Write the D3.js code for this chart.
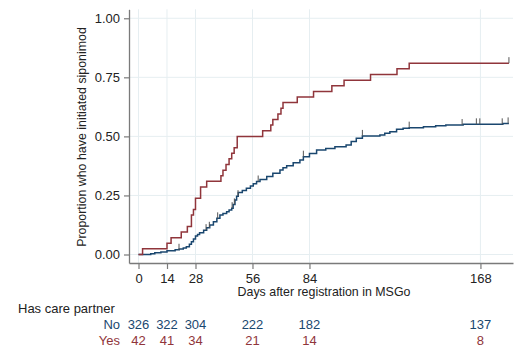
<!DOCTYPE html>
<html>
<head>
<meta charset="utf-8">
<script src="https://cdn.jsdelivr.net/npm/d3@7"></script>
<style>
  body { margin: 0; background: #fff; }
  svg { font-family: "Liberation Sans", Arial, sans-serif; }
</style>
</head>
<body>
<div id="chart"></div>
<script>
// Kaplan-Meier style cumulative proportions (day, proportion after step)
const noDays = [0, 6, 8, 11, 14, 18, 20, 22, 23.5, 25, 26, 27, 28, 29, 30, 32, 33.5, 35, 36.8, 38.5, 40, 41.5, 43.3, 44.5, 45.8, 46.5, 47.4, 48.2, 49, 51, 53, 55, 56.4, 58, 59.7, 63, 66, 69.5, 71, 72.8, 76, 79.3, 81, 84, 87.5, 92, 96.5, 102, 104.5, 107, 110, 118.6, 121, 123.5, 126.8, 130, 133, 140, 146, 151, 159.5, 179, 182];
const noProp = [0, 0.003, 0.007, 0.011, 0.016, 0.02, 0.023, 0.028, 0.033, 0.043, 0.054, 0.066, 0.078, 0.085, 0.092, 0.103, 0.113, 0.125, 0.139, 0.153, 0.167, 0.174, 0.181, 0.188, 0.196, 0.212, 0.231, 0.247, 0.262, 0.271, 0.28, 0.29, 0.30, 0.309, 0.318, 0.33, 0.344, 0.358, 0.367, 0.376, 0.388, 0.40, 0.414, 0.428, 0.442, 0.449, 0.456, 0.464, 0.478, 0.492, 0.502, 0.506, 0.513, 0.52, 0.53, 0.534, 0.537, 0.541, 0.545, 0.548, 0.551, 0.555, 0.555];
const yesDays = [0, 2, 14, 16, 21, 24, 26, 27, 28, 30.5, 33.5, 40.5, 41.5, 43, 44.5, 45.8, 47, 48.5, 61, 65, 66, 68.5, 70, 71, 78, 86, 95, 101, 114, 127, 133, 182];
const yesProp = [0, 0.024, 0.048, 0.071, 0.095, 0.119, 0.167, 0.19, 0.238, 0.286, 0.31, 0.333, 0.357, 0.381, 0.405, 0.429, 0.452, 0.5, 0.524, 0.548, 0.571, 0.595, 0.619, 0.643, 0.667, 0.69, 0.714, 0.738, 0.762, 0.786, 0.81, 0.81];

// censoring marks (days)
const noCensor = [19.9, 33.2, 34.8, 38.9, 46, 47.1, 48.9, 58.8, 81, 110, 133, 159, 166, 167.7, 178.7, 181.6];
const yesCensor = [182];

// axis ticks and number at risk
const xTicks = [0, 14, 28, 56, 84, 168];
const yTicks = [0, 0.25, 0.5, 0.75, 1];
const riskNo = [326, 322, 304, 222, 182, 137];
const riskYes = [42, 41, 34, 21, 14, 8];

const width = 518, height = 350;
const navy = "#1a476f", cranberry = "#90353b";

const svg = d3.select("#chart").append("svg")
  .attr("width", width)
  .attr("height", height);

const x = d3.scaleLinear().domain([-4.67, 184]).range([129, 513]);
const y = d3.scaleLinear().domain([-0.036, 1.038]).range([263, 9.3]);

// grid
svg.append("g")
  .selectAll("line")
  .data(yTicks)
  .join("line")
  .attr("x1", x.range()[0]).attr("x2", x.range()[1])
  .attr("y1", d => y(d)).attr("y2", d => y(d))
  .attr("stroke", "#e6eef1").attr("stroke-width", 1);
svg.append("g")
  .selectAll("line")
  .data(xTicks)
  .join("line")
  .attr("x1", d => x(d)).attr("x2", d => x(d))
  .attr("y1", y.range()[0]).attr("y2", y.range()[1])
  .attr("stroke", "#e6eef1").attr("stroke-width", 1);

// axes
const yAxis = svg.append("g")
  .attr("transform", "translate(129,0)")
  .call(d3.axisLeft(y).tickValues(yTicks).tickFormat(d3.format(".2f")).tickSize(5).tickPadding(4).tickSizeOuter(0));
const xAxis = svg.append("g")
  .attr("transform", "translate(0,263)")
  .call(d3.axisBottom(x).tickValues(xTicks).tickSize(6).tickPadding(5).tickSizeOuter(0));
[xAxis, yAxis].forEach(a => {
  a.select(".domain").attr("stroke", "#7a7a7a").attr("stroke-width", 1.3);
  a.selectAll(".tick line").attr("stroke", "#7a7a7a").attr("stroke-width", 1.2);
  a.selectAll(".tick text").attr("font-size", 13).attr("fill", "#222")
    .attr("font-family", "Liberation Sans, Arial, sans-serif");
});

// curves
const line = d3.line().curve(d3.curveStepAfter).x(d => x(d[0])).y(d => y(d[1]));
const series = [
  { days: noDays, prop: noProp, color: navy, censor: noCensor },
  { days: yesDays, prop: yesProp, color: cranberry, censor: yesCensor }
];
series.forEach(s => {
  const pts = s.days.map((d, i) => [d, s.prop[i]]);
  svg.append("path")
    .datum(pts)
    .attr("d", line)
    .attr("fill", "none")
    .attr("stroke", s.color)
    .attr("stroke-width", 1.5);
  const valueAt = t => {
    let v = 0;
    s.days.forEach((d, i) => { if (d <= t) v = s.prop[i]; });
    return v;
  };
  svg.append("g")
    .selectAll("line")
    .data(s.censor)
    .join("line")
    .attr("x1", d => x(d)).attr("x2", d => x(d))
    .attr("y1", d => y(valueAt(d))).attr("y2", d => y(valueAt(d)) - 6)
    .attr("stroke", "#555").attr("stroke-width", 1);
});

// axis titles
svg.append("text")
  .attr("x", 324).attr("y", 296)
  .attr("text-anchor", "middle")
  .attr("font-size", 12.4).attr("fill", "#222")
  .text("Days after registration in MSGo");
svg.append("text")
  .attr("transform", "translate(86,137) rotate(-90)")
  .attr("text-anchor", "middle")
  .attr("font-size", 12.4).attr("fill", "#222")
  .text("Proportion who have initiated siponimod");

// number at risk table
svg.append("text")
  .attr("x", 18).attr("y", 313)
  .attr("font-size", 13).attr("fill", "#222")
  .text("Has care partner");
const rows = [
  { label: "No", values: riskNo, color: navy, yPos: 329 },
  { label: "Yes", values: riskYes, color: cranberry, yPos: 344.5 }
];
rows.forEach(r => {
  svg.append("text")
    .attr("x", 120).attr("y", r.yPos)
    .attr("text-anchor", "end")
    .attr("font-size", 13).attr("fill", r.color)
    .text(r.label);
  svg.append("g")
    .selectAll("text")
    .data(r.values)
    .join("text")
    .attr("x", (d, i) => x(xTicks[i]))
    .attr("y", r.yPos)
    .attr("text-anchor", "middle")
    .attr("font-size", 13).attr("fill", r.color)
    .text(d => d);
});
</script>
</body>
</html>
